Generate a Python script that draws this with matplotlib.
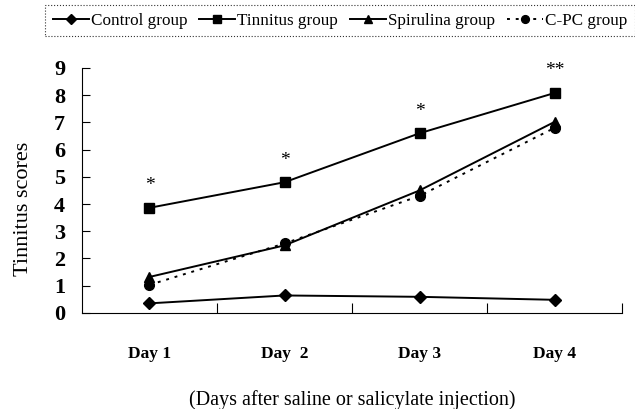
import matplotlib
matplotlib.use("Agg")
import matplotlib.pyplot as plt

days = ["Day 1", "Day  2", "Day 3", "Day 4"]
control = [0.35, 0.64, 0.59, 0.48]
tinnitus = [3.86, 4.80, 6.60, 8.08]
spirulina = [1.32, 2.48, 4.50, 7.02]
cpc = [1.03, 2.55, 4.30, 6.80]
stars = ["*", "*", "*", "**"]
yticks = list(range(10))

plt.rcParams["font.family"] = ["Liberation Serif", "DejaVu Serif"]

fig = plt.figure(figsize=(6.35, 4.09), dpi=100)
ax = fig.add_axes([0.129, 0.235, 0.851, 0.599])

x = [1, 2, 3, 4]
lw = 1.4
h1, = ax.plot(x, control, "-", color="black", lw=lw, marker="D", ms=6.5, label="Control group")
h2, = ax.plot(x, tinnitus, "-", color="black", lw=lw, marker="s", ms=7.5, label="Tinnitus group")
h3, = ax.plot(x, spirulina, "-", color="black", lw=lw, marker="^", ms=7.5, label="Spirulina group")
h4, = ax.plot(x, cpc, color="black", lw=lw, ls=(0, (1.5, 3)), marker="o", ms=7, label="C-PC group")

# significance marks above tinnitus group
for xi, yi, s in zip(x, tinnitus, stars):
    ax.text(xi, yi + 0.5, s, ha="center", va="bottom", fontsize=14)

ax.set_xlim(0.5, 4.5)
ax.set_ylim(0, 9)
ax.set_yticks(yticks)
ax.set_yticklabels([str(v) for v in yticks], fontsize=16, fontweight="bold")
ax.set_xticks([1.5, 2.5, 3.5, 4.5])
ax.set_xticklabels([])
ax.set_xticks(x, minor=True)
ax.set_xticklabels(days, minor=True, fontsize=12.5, fontweight="bold")
ax.tick_params(axis="x", which="minor", length=0, pad=24)
ax.tick_params(axis="x", which="major", direction="in", length=7, width=0.8)
ax.tick_params(axis="y", direction="in", length=6, width=0.8, pad=12)
ax.spines["top"].set_visible(False)
ax.spines["right"].set_visible(False)
for sp in ("left", "bottom"):
    ax.spines[sp].set_linewidth(0.8)

ax.set_ylabel("Tinnitus scores", fontsize=16)
ax.yaxis.set_label_coords(-0.091, 0.424)
ax.set_xlabel("(Days after saline or salicylate injection)", fontsize=14.5, labelpad=20)

leg = fig.legend(handles=[h1, h2, h3, h4], loc="upper left", bbox_to_anchor=(0.071, 0.988),
                 borderaxespad=0, ncol=4, fontsize=12.3, handlelength=2.1, handletextpad=0.12,
                 columnspacing=0.7, borderpad=0.45, fancybox=False, markerscale=0.8)
frame = leg.get_frame()
frame.set_edgecolor("black")
frame.set_linestyle(":")
frame.set_linewidth(0.8)

fig.savefig("out.png", dpi=100)
